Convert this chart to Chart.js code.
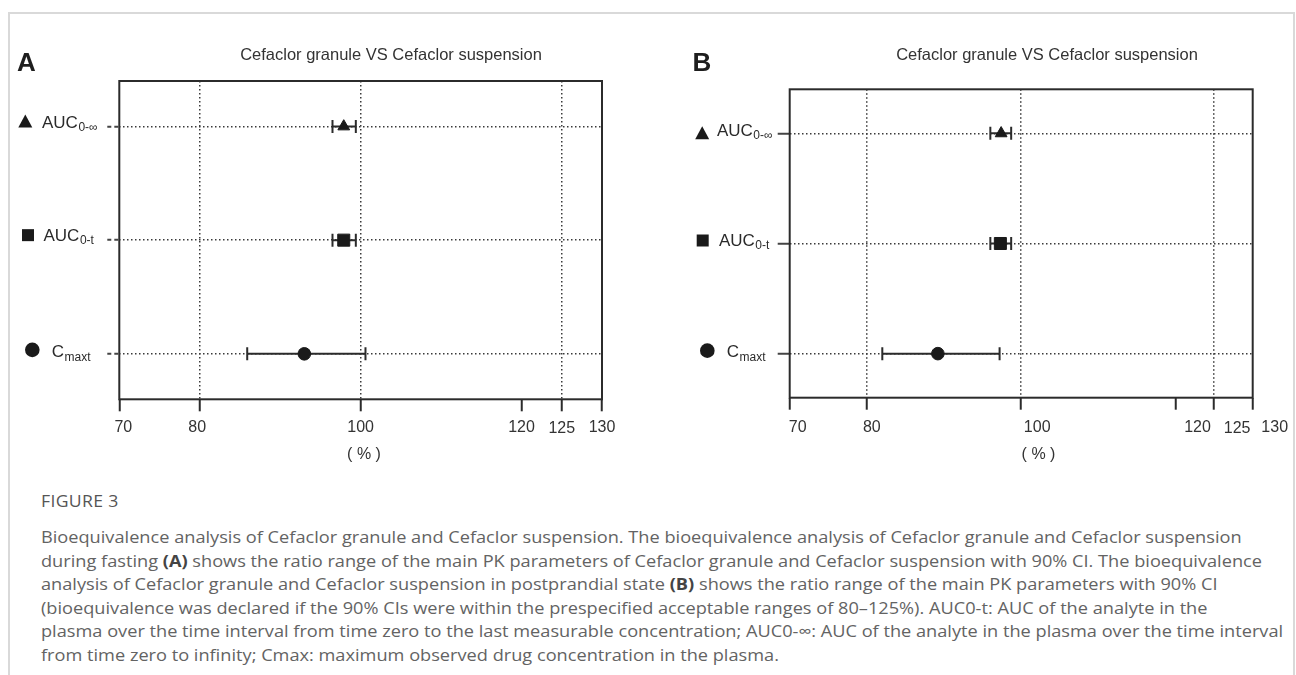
<!DOCTYPE html>
<html lang="en">
<head>
<meta charset="UTF-8">
<title>Cefaclor granule VS Cefaclor suspension</title>
<script src="https://cdn.jsdelivr.net/npm/chart.js"></script>
<style>
    body {
        margin: 0;
        width: 1296px;
        height: 675px;
        overflow: hidden;
        background: #fff;
        position: relative;
        font-family: "Liberation Sans", Arial, sans-serif;
    }
    .frame {
        position: absolute;
        left: 8px;
        top: 12px;
        width: 1283px;
        height: 700px;
        border: 2px solid #d9d9d9;
        border-bottom: none;
    }
    #chartA { position: absolute; left: 0; top: 0; }
    #chartB { position: absolute; left: 660px; top: 0; }
    .caption {
        position: absolute;
        left: 41px;
        top: 490px;
        color: #636363;
        font-family: "Open Sans", sans-serif;
        font-size: 16.5px;
        line-height: 23.6px;
        white-space: nowrap;
        transform-origin: left top;
    }
    .caption .fig { font-size: 16px; letter-spacing: 0.3px; margin-bottom: 12px; line-height: 23px; color: #555; }
    .caption b { font-weight: 700; color: #444; }
</style>
</head>
<body>
<div class="frame"></div>
<canvas id="chartA" width="650" height="470"></canvas>
<canvas id="chartB" width="636" height="470"></canvas>

<div class="caption" id="caption">
    <div class="fig">FIGURE 3</div>
    <div>Bioequivalence analysis of Cefaclor granule and Cefaclor suspension. The bioequivalence analysis of Cefaclor granule and Cefaclor suspension</div>
    <div id="capRef">during fasting <b>(A)</b> shows the ratio range of the main PK parameters of Cefaclor granule and Cefaclor suspension with 90% CI. The bioequivalence</div>
    <div>analysis of Cefaclor granule and Cefaclor suspension in postprandial state <b>(B)</b> shows the ratio range of the main PK parameters with 90% CI</div>
    <div>(bioequivalence was declared if the 90% CIs were within the prespecified acceptable ranges of 80–125%). AUC0-t: AUC of the analyte in the</div>
    <div>plasma over the time interval from time zero to the last measurable concentration; AUC0-∞: AUC of the analyte in the plasma over the time interval</div>
    <div>from time zero to infinity; Cmax: maximum observed drug concentration in the plasma.</div>
</div>

<script>
    // rows, bottom to top
    const rowPos = [1, 2, 3];
    const rowMain = ['C', 'AUC', 'AUC'];
    const rowSub = ['maxt', '0-t', '0-∞'];
    const rowShape = ['circle', 'rect', 'triangle'];

    const xTicks = [70, 80, 100, 120, 125, 130];
    const refLines = [80, 100, 125];

    // (A) fasting: ratio and 90% CI, %
    const ratioA = [93.0, 97.9, 97.9];
    const lowA = [85.9, 96.5, 96.5];
    const highA = [100.6, 99.4, 99.4];

    // (B) postprandial
    const ratioB = [89.2, 97.3, 97.4];
    const lowB = [82.0, 96.0, 96.0];
    const highB = [97.2, 98.7, 98.7];

    const titleText = 'Cefaclor granule VS Cefaclor suspension';
    const FONT = '"Liberation Sans", Arial, sans-serif';
    const INK = '#2b2b2b';
    const DOTS = [1.5, 2.5];

    const panelA = {
        id: 'chartA', letter: 'A', W: 650, H: 470,
        left: 119.3, top: 81, right: 602, bottom: 399.3,
        letterX: 17, titleX: 391, pctX: 364,
        yTickDash: [4, 3],
        labelShift: [4, -2.5, 0, 0, 0, 0],
        symX: [32.3, 28, 25.3], symDy: [-4, -5, -5],
        textX: [51.7, 43.5, 42], textDy: [3, 1, 2]
    };
    const panelB = {
        id: 'chartB', letter: 'B', W: 636, H: 470,
        left: 129.7, top: 89.3, right: 592.7, bottom: 397.7,
        letterX: 32.5, titleX: 387, pctX: 378.5,
        yTickDash: [],
        labelShift: [8, 5, 16, 22, 23, 22],
        symX: [47.3, 42.7, 42.2], symDy: [-3, -3, 0],
        textX: [66.7, 58.9, 56.9], textDy: [3, 2, 3]
    };

    function drawSymbol(ctx, shape, x, y) {
        ctx.beginPath();
        if (shape === 'circle') {
            ctx.arc(x, y, 7.3, 0, Math.PI * 2);
        } else if (shape === 'rect') {
            ctx.rect(x - 6, y - 6, 12, 12);
        } else {
            ctx.moveTo(x, y - 7);
            ctx.lineTo(x + 7, y + 6);
            ctx.lineTo(x - 7, y + 6);
            ctx.closePath();
        }
        ctx.fill();
    }

    function makeDecor(p) {
        return {
            id: 'decor' + p.letter,
            afterDraw(chart) {
                const ctx = chart.ctx;
                const a = chart.chartArea;
                const xs = chart.scales.x;
                const ys = chart.scales.y;
                ctx.save();

                // frame of the plot
                ctx.strokeStyle = INK;
                ctx.lineWidth = 2;
                ctx.setLineDash([]);
                ctx.strokeRect(a.left, a.top, a.right - a.left, a.bottom - a.top);

                ctx.fillStyle = '#1e1e1e';
                ctx.textBaseline = 'alphabetic';

                // panel letter and title
                ctx.font = 'bold 26px ' + FONT;
                ctx.textAlign = 'left';
                ctx.fillText(p.letter, p.letterX, 71);
                ctx.font = '16.5px ' + FONT;
                ctx.textAlign = 'center';
                ctx.fillStyle = '#333';
                ctx.fillText(titleText, p.titleX, 59.5);

                // x tick labels
                ctx.font = '16px ' + FONT;
                xTicks.forEach((v, i) => {
                    ctx.fillText(String(v), xs.getPixelForValue(v) + p.labelShift[i], v === 125 ? 433 : 432);
                });
                ctx.fillText('( % )', p.pctX, 459);

                // row labels with symbols
                rowPos.forEach((r, i) => {
                    const yy = ys.getPixelForValue(r);
                    ctx.fillStyle = '#1a1a1a';
                    drawSymbol(ctx, rowShape[i], p.symX[i], yy + p.symDy[i]);
                    ctx.textAlign = 'left';
                    ctx.fillStyle = '#2a2a2a';
                    ctx.font = '17px ' + FONT;
                    const base = yy + p.textDy[i];
                    ctx.fillText(rowMain[i], p.textX[i], base);
                    const w = ctx.measureText(rowMain[i]).width;
                    ctx.font = '12px ' + FONT;
                    ctx.fillText(rowSub[i], p.textX[i] + w + 0.5, base + (i === 0 ? 4.5 : 3));
                });
                ctx.restore();
            }
        };
    }

    function renderPanel(p, ratio, low, high) {
        const ctx = document.getElementById(p.id).getContext('2d');

        const whiskers = rowPos.map((r, i) => ({
            data: [{ x: low[i], y: r }, { x: high[i], y: r }],
            showLine: true,
            borderColor: INK,
            borderWidth: 2,
            pointStyle: 'line',
            pointRotation: 90,
            pointRadius: 6.5,
            pointBorderColor: INK,
            pointBorderWidth: 2,
            order: 2
        }));

        const markers = {
            data: rowPos.map((r, i) => ({ x: ratio[i], y: r })),
            pointStyle: rowShape,
            pointRadius: [6.3, 8.5, 6.8],
            backgroundColor: '#1a1a1a',
            borderColor: '#1a1a1a',
            borderWidth: 1,
            order: 0
        };

        return new Chart(ctx, {
            type: 'scatter',
            data: { datasets: [markers].concat(whiskers) },
            options: {
                responsive: false,
                animation: false,
                layout: {
                    padding: { left: p.left - 12, top: p.top, right: p.W - p.right, bottom: 0 }
                },
                plugins: {
                    legend: { display: false },
                    tooltip: { enabled: false }
                },
                scales: {
                    x: {
                        type: 'linear',
                        min: 70,
                        max: 130,
                        afterBuildTicks: s => { s.ticks = xTicks.map(v => ({ value: v })); },
                        afterFit: s => { s.height = p.H - p.bottom; },
                        ticks: { display: false },
                        border: { display: false, dash: DOTS },
                        grid: {
                            color: c => (c.tick && refLines.includes(c.tick.value)) ? '#3a3a3a' : 'rgba(0,0,0,0)',
                            lineWidth: 1.5,
                            tickColor: INK,
                            tickWidth: 2,
                            tickLength: 12,
                            tickBorderDash: []
                        }
                    },
                    y: {
                        type: 'linear',
                        min: 0.6,
                        max: 3.4,
                        afterBuildTicks: s => { s.ticks = rowPos.map(v => ({ value: v })); },
                        afterFit: s => { s.width = 12; },
                        ticks: { display: false },
                        border: { display: false, dash: DOTS },
                        grid: {
                            color: '#3a3a3a',
                            lineWidth: 1.5,
                            tickColor: '#444',
                            tickWidth: 2,
                            tickLength: 12,
                            tickBorderDash: p.yTickDash
                        }
                    }
                }
            },
            plugins: [makeDecor(p)]
        });
    }

    renderPanel(panelA, ratioA, lowA, highA);
    renderPanel(panelB, ratioB, lowB, highB);

    // squeeze the caption to the width it has in the figure
    const cap = document.getElementById('caption');
    const ref = document.getElementById('capRef');
    const range = document.createRange();
    range.selectNodeContents(ref);
    const natural = range.getBoundingClientRect().width;
    cap.style.transform = 'scaleX(' + (1221 / natural) + ')';
</script>
</body>
</html>
